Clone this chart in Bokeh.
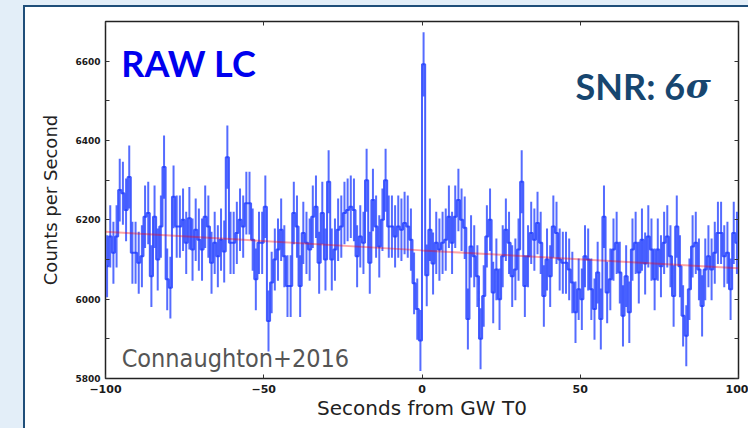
import numpy as np
from bokeh.plotting import figure
from bokeh.models import Range1d, FixedTicker, LinearAxis, Label, Div, ColumnDataSource
from bokeh.layouts import row, column
from bokeh.embed import file_html
from bokeh.resources import INLINE

# ---------------- data ----------------
bin_start = -100.0
bin_width = 1.0

counts_m100_m50 = [6083, 6158, 6117, 6158, 6275, 6267, 6225, 6308, 6117, 6117,
                   6092, 6108, 6208, 6217, 6058, 6208, 6100, 6183, 6333, 6050,
                   6029, 6258, 6183, 6183, 6200, 6142, 6204, 6125, 6175, 6150,
                   6125, 6208, 6183, 6092, 6142, 6108, 6150, 6120, 6358, 6142,
                   6142, 6167, 6200, 6183, 6242, 6242, 6150, 6050, 6142, 6142]
counts_m50_0 = [6233, 5945, 6042, 6100, 6125, 6175, 6108, 6033, 6033, 6217,
                6183, 6033, 6167, 6142, 6125, 6208, 6233, 6092, 6217, 6100,
                6296, 6100, 6125, 6175, 6183, 6217, 6225, 6233, 6225, 6108,
                6158, 6142, 6300, 6092, 6250, 6183, 6133, 6200, 6300, 6183,
                6183, 6158, 6183, 6175, 6192, 6183, 6150, 6040, 5975, 5896]
counts_0_50 = [6592, 6060, 6175, 6090, 6142, 6125, 6142, 6150, 6208, 6142,
               6208, 6250, 6200, 6180, 5950, 6133, 6108, 6058, 5900, 6008,
               6158, 6200, 6017, 6075, 6000, 6108, 6175, 6142, 6058, 6075,
               6125, 6296, 6033, 6108, 6167, 6150, 6192, 6142, 6008, 6100,
               6058, 6183, 6167, 6100, 6092, 6092, 6075, 6042, 5967, 6025]
counts_50_100 = [6000, 6108, 6100, 6025, 5975, 6067, 5950, 6208, 6017, 6050,
                 6125, 6142, 6067, 5958, 6058, 5967, 6125, 6142, 6067, 6150,
                 6090, 6158, 6125, 6050, 6125, 6083, 6142, 6158, 6108, 6008,
                 6183, 6083, 5958, 5908, 6025, 6133, 6142, 6075, 5983, 6075,
                 6108, 6075, 6117, 6167, 6167, 6108, 6117, 6025, 6167, 6142]

bkg_time = [-100, 0, 100]
bkg_rate = [6170, 6123, 6078]

x_ticks = [-100, -50, 0, 50, 100]
x_tick_labels = ["\u2212100", "\u221250", "0", "50", "100"]
y_ticks = [5800, 6000, 6200, 6400, 6600]
y_tick_labels = ["5800", "6000", "6200", "6400", "6600"]
y_minor_ticks = [5900, 6100, 6300, 6500]

# ---------------- build ----------------
rate = np.array(counts_m100_m50 + counts_m50_0 + counts_0_50 + counts_50_100, dtype=float)
t = bin_start + bin_width * (np.arange(len(rate)) + 0.5)
err = np.sqrt(rate / bin_width)
src = ColumnDataSource(dict(t=t, rate=rate, lo=rate - err, hi=rate + err))

p = figure(width=723, height=421, output_backend="svg", toolbar_location=None,
           x_range=Range1d(-100, 100), y_range=Range1d(5800, 6700),
           min_border_left=80, min_border_right=10, min_border_top=14, min_border_bottom=50)
p.background_fill_color = "white"
p.border_fill_color = "white"
p.outline_line_color = "#222222"
p.outline_line_width = 1.5
p.grid.visible = False

blue = "#1a38ff"
p.segment(x0="t", y0="lo", x1="t", y1="hi", source=src, line_color=blue,
          line_width=2, line_alpha=0.74)
p.step(x="t", y="rate", source=src, mode="center", line_color=blue,
       line_width=2, line_alpha=0.8)
p.line(bkg_time, bkg_rate, line_color="red", line_alpha=0.35, line_width=2)

xlab = {v: s for v, s in zip(x_ticks, x_tick_labels)}
ylab = {v: s for v, s in zip(y_ticks, y_tick_labels)}

ax = p.xaxis[0]
ax.ticker = FixedTicker(ticks=x_ticks)
ax.major_label_overrides = xlab
ax.axis_label = "Seconds from GW T0"
ay = p.yaxis[0]
ay.ticker = FixedTicker(ticks=y_ticks, minor_ticks=y_minor_ticks)
ay.major_label_overrides = ylab
ay.axis_label = "Counts per Second"

for a in (ax, ay):
    a.axis_line_color = None
    a.major_tick_in = 4
    a.major_tick_out = 0
    a.minor_tick_in = 4
    a.minor_tick_out = 0
    a.minor_tick_line_color = "#333333"
    a.major_tick_line_color = "#333333"
    a.major_label_text_font = "DejaVu Sans"
    a.major_label_text_font_style = "bold"
    a.major_label_text_color = "#1a1a1a"
    a.axis_label_text_font = "DejaVu Sans"
    a.axis_label_text_font_style = "normal"
    a.axis_label_text_color = "#222222"

ax.major_label_text_font_size = "11px"
ax.major_label_standoff = 6
ax.axis_label_text_font_size = "20px"
ax.axis_label_standoff = 0
ay.major_label_text_font_size = "9px"
ay.major_label_standoff = 5
ay.axis_label_text_font_size = "18px"
ay.axis_label_standoff = 11

# frame ticks on the top and right sides (no labels)
top = LinearAxis(ticker=FixedTicker(ticks=[], minor_ticks=x_ticks),
                 axis_line_color=None, major_tick_line_color=None,
                 minor_tick_in=4, minor_tick_out=0, minor_tick_line_color="#333333")
right = LinearAxis(ticker=FixedTicker(ticks=[], minor_ticks=y_ticks + y_minor_ticks),
                   axis_line_color=None, major_tick_line_color=None,
                   minor_tick_in=4, minor_tick_out=0, minor_tick_line_color="#333333")
p.add_layout(top, "above")
p.add_layout(right, "right")

p.add_layout(Label(x=-95.0, y=6596, text="RAW LC", text_font="Lato", text_font_style="bold",
                   text_font_size="36px", text_color="#0000ee", text_baseline="alphabetic"))
p.add_layout(Label(x=48.5, y=6538, text="SNR: 6", text_font="Lato", text_font_style="bold",
                   text_font_size="36px", text_color="#17466f", text_baseline="alphabetic"))
p.add_layout(Label(x=83.3, y=6538, text="\u03c3", text_font="DejaVu Serif", text_font_style="bold italic",
                   text_font_size="34px", text_color="#17466f", text_baseline="alphabetic"))
p.add_layout(Label(x=-94.9, y=5850, text="Connaughton+2016",
                   text_font="Liberation Sans Narrow, DejaVu Sans Condensed, Roboto",
                   text_font_size="25px", text_color="#555555", text_baseline="alphabetic"))

corner = Div(text="", width=23, height=7, margin=0,
             styles={"background-color": "#e3eef8"})
bar = Div(text="", width=725, height=7, margin=0,
          styles={"background": "linear-gradient(to bottom, #e3eef8 0px, #e3eef8 5px, #1f4e79 5px, #1f4e79 7px)"})
strip = Div(text="", width=23, height=421, margin=0,
            styles={"background-color": "#e3eef8"})
edge = Div(text="", width=2, height=421, margin=0,
           styles={"background-color": "#1f4e79"})
page = column(row(corner, bar, spacing=0), row(strip, edge, p, spacing=0), spacing=0)

open("out.html", "w").write(file_html(page, INLINE))
